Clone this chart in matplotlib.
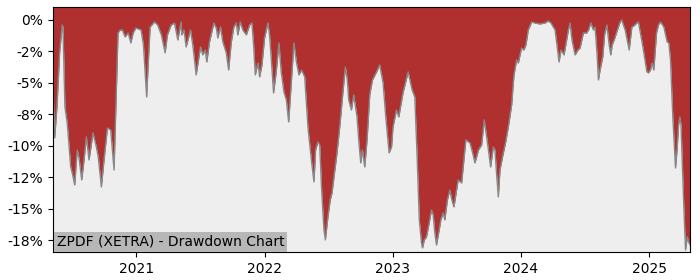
import numpy as np
import pandas as pd
import matplotlib
matplotlib.use('Agg')
import matplotlib.pyplot as plt
import matplotlib.dates as mdates
from matplotlib.ticker import FuncFormatter, MultipleLocator

title = 'ZPDF (XETRA) - Drawdown Chart'

# time as decimal year, drawdown in percent
year_frac = [
    2020.352, 2020.365, 2020.383, 2020.404, 2020.424, 2020.430, 2020.445, 2020.463, 2020.490, 2020.502,
    2020.521, 2020.541, 2020.555, 2020.576, 2020.594, 2020.612, 2020.633, 2020.664, 2020.690, 2020.705,
    2020.729, 2020.750, 2020.776, 2020.802, 2020.828, 2020.859, 2020.875, 2020.893, 2020.914, 2020.938,
    2020.959, 2020.977, 2020.998, 2021.037, 2021.055, 2021.074, 2021.080, 2021.090, 2021.107, 2021.141,
    2021.166, 2021.195, 2021.224, 2021.242, 2021.271, 2021.297, 2021.323, 2021.349, 2021.354, 2021.371,
    2021.388, 2021.406, 2021.422, 2021.440, 2021.466, 2021.500, 2021.518, 2021.537, 2021.549, 2021.570,
    2021.604, 2021.623, 2021.635, 2021.656, 2021.674, 2021.701, 2021.719, 2021.740, 2021.760, 2021.779,
    2021.791, 2021.810, 2021.830, 2021.857, 2021.883, 2021.901, 2021.914, 2021.927, 2021.948, 2021.961,
    2021.979, 2022.000, 2022.026, 2022.039, 2022.052, 2022.070, 2022.091, 2022.112, 2022.130, 2022.151,
    2022.170, 2022.188, 2022.209, 2022.229, 2022.248, 2022.268, 2022.289, 2022.313, 2022.338, 2022.365,
    2022.385, 2022.398, 2022.416, 2022.430, 2022.445, 2022.463, 2022.474, 2022.494, 2022.512, 2022.526,
    2022.541, 2022.563, 2022.586, 2022.609, 2022.630, 2022.645, 2022.656, 2022.677, 2022.695, 2022.721,
    2022.734, 2022.750, 2022.763, 2022.781, 2022.799, 2022.820, 2022.841, 2022.873, 2022.898, 2022.924,
    2022.945, 2022.971, 2022.990, 2023.002, 2023.029, 2023.047, 2023.080, 2023.120, 2023.151, 2023.172,
    2023.191, 2023.207, 2023.224, 2023.232, 2023.246, 2023.263, 2023.281, 2023.302, 2023.315, 2023.328,
    2023.341, 2023.362, 2023.375, 2023.393, 2023.406, 2023.426, 2023.445, 2023.461, 2023.477, 2023.492,
    2023.510, 2023.537, 2023.551, 2023.570, 2023.602, 2023.621, 2023.641, 2023.668, 2023.693, 2023.713,
    2023.730, 2023.746, 2023.763, 2023.784, 2023.797, 2023.810, 2023.823, 2023.836, 2023.859, 2023.879,
    2023.901, 2023.927, 2023.945, 2023.966, 2023.979, 2024.005, 2024.023, 2024.039, 2024.057, 2024.084,
    2024.109, 2024.148, 2024.188, 2024.213, 2024.234, 2024.266, 2024.281, 2024.297, 2024.313, 2024.336,
    2024.370, 2024.383, 2024.398, 2024.422, 2024.445, 2024.461, 2024.487, 2024.513, 2024.527, 2024.545,
    2024.565, 2024.578, 2024.594, 2024.604, 2024.617, 2024.638, 2024.652, 2024.670, 2024.688, 2024.701,
    2024.711, 2024.727, 2024.752, 2024.773, 2024.787, 2024.799, 2024.813, 2024.828, 2024.844, 2024.865,
    2024.879, 2024.904, 2024.916, 2024.951, 2024.982, 2024.994, 2025.008, 2025.021, 2025.034, 2025.055,
    2025.070, 2025.086, 2025.112, 2025.138, 2025.151, 2025.160, 2025.164, 2025.182, 2025.203, 2025.215,
    2025.227, 2025.237, 2025.246, 2025.266, 2025.281, 2025.295, 2025.305, 2025.316,
]

drawdown = [
    -5.33, -9.38, -6.92, -2.54, -0.40, -0.56, -6.92, -8.19, -11.69, -12.16,
    -13.12, -10.34, -10.97, -12.72, -11.13, -9.30, -11.13, -8.98, -10.10, -10.89,
    -13.28, -11.13, -8.59, -8.75, -11.93, -1.03, -0.80, -0.80, -1.35, -1.03,
    -1.83, -1.03, -0.64, -0.80, -1.99, -5.17, -6.12, -3.98, -0.56, -0.16,
    -0.40, -1.19, -2.62, -1.19, -0.40, -0.24, -1.59, -0.16, -1.19, -0.80,
    -2.15, -1.43, -0.80, -1.99, -4.37, -2.15, -2.78, -2.39, -3.34, -1.75,
    -0.24, -0.64, -1.43, -0.56, -1.75, -2.62, -3.98, -1.75, -0.56, -0.24,
    -1.19, -0.16, -0.80, -1.19, -0.40, -0.24, -1.99, -4.37, -3.42, -4.53,
    -3.58, -1.43, -0.24, -1.19, -3.02, -5.80, -4.13, -1.83, -4.13, -5.72,
    -6.36, -8.11, -4.93, -1.83, -3.34, -4.37, -3.98, -4.53, -8.51, -11.13,
    -12.88, -10.34, -9.70, -9.94, -13.52, -16.70, -17.49, -15.66, -14.31, -13.75,
    -12.48, -10.73, -8.51, -5.96, -3.74, -4.77, -6.36, -7.16, -5.96, -7.71,
    -9.54, -11.37, -10.34, -11.69, -9.54, -5.96, -4.77, -4.13, -3.58, -5.01,
    -7.71, -10.57, -10.10, -8.51, -7.16, -7.71, -5.80, -4.13, -5.57, -6.12,
    -11.13, -15.90, -17.73, -18.13, -17.49, -17.25, -16.30, -15.11, -15.50, -16.93,
    -17.89, -16.70, -15.90, -15.34, -15.90, -14.31, -13.52, -14.31, -14.87, -13.91,
    -12.72, -12.96, -11.53, -9.54, -9.78, -10.49, -11.37, -10.34, -9.94, -7.95,
    -9.14, -10.34, -11.69, -10.10, -10.34, -12.32, -14.07, -11.93, -10.73, -9.78,
    -8.51, -6.76, -4.37, -3.18, -3.42, -2.23, -2.39, -1.99, -0.80, -0.16,
    -0.24, -0.32, -0.24, -0.08, -0.24, -0.80, -1.99, -3.34, -2.39, -2.78,
    -0.80, -0.24, -1.59, -2.78, -2.39, -2.23, -1.03, -1.03, -0.80, -0.24,
    -0.80, -0.56, -2.78, -4.77, -3.98, -2.94, -1.19, -0.40, -1.99, -2.78,
    -1.99, -1.59, -0.80, -0.16, 0.00, -0.40, -0.80, -1.59, -2.39, -0.56,
    -0.48, -0.24, -0.16, -2.15, -4.13, -4.21, -3.98, -3.42, -3.98, -1.03,
    -0.40, -0.16, -0.56, -1.75, -1.83, -2.78, -3.18, -7.71, -11.77, -10.34,
    -8.35, -7.71, -8.35, -14.31, -18.29, -17.25, -17.65, -17.89,
]

# decimal year -> timestamp
yf = np.array(year_frac)
yrs = np.floor(yf).astype(int)
dates = [pd.Timestamp(year=int(y), month=1, day=1) + pd.Timedelta(days=float((f - y) * 365.25))
         for y, f in zip(yrs, yf)]
dd = np.array(drawdown)

ymin, ymax = -18.45, 1.03

fig = plt.figure(figsize=(7, 2.8), dpi=100)
ax = fig.add_axes([0.0757, 0.1, 0.91, 0.875])
ax.set_facecolor('#eeeeee')

ax.fill_between(dates, dd, ymax, color='#b03030', linewidth=0)
ax.plot(dates, dd, color='#888888', linewidth=1)

ax.set_ylim(ymin, ymax)
ax.set_xlim(dates[0], dates[-1])

ax.yaxis.set_major_locator(MultipleLocator(2.5))
ax.yaxis.set_major_formatter(FuncFormatter(lambda v, p: '{:.0f}%'.format(v)))
ax.xaxis.set_major_locator(mdates.YearLocator())
ax.xaxis.set_major_formatter(mdates.DateFormatter('%Y'))

ax.text(0.006, 0.013, title, transform=ax.transAxes, fontsize=10,
        va='bottom', ha='left',
        bbox=dict(facecolor='#b7b7b7', edgecolor='none', pad=2))

plt.savefig('out.png', dpi=100)
plt.close()
